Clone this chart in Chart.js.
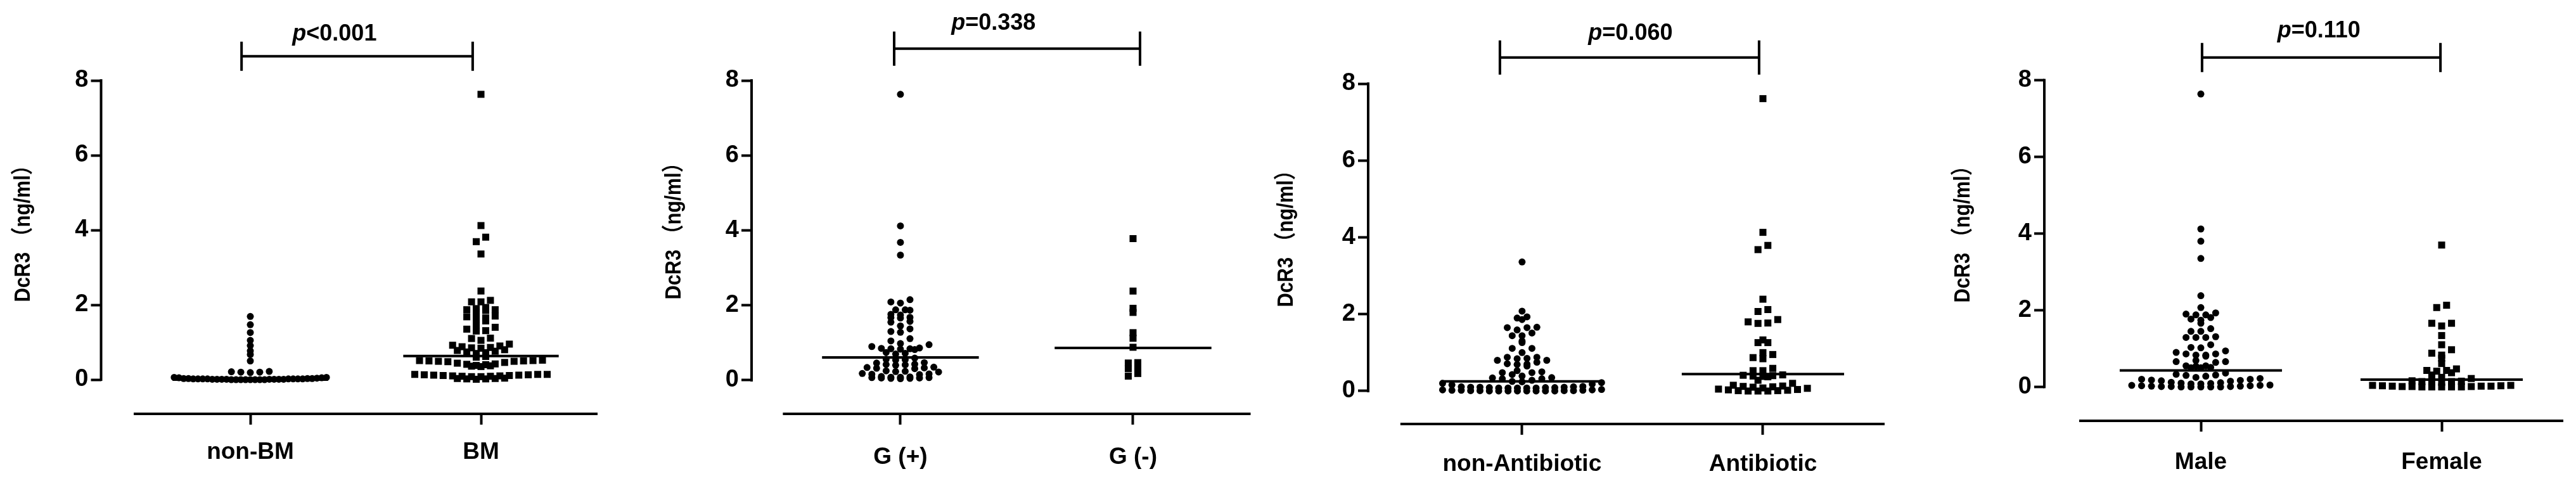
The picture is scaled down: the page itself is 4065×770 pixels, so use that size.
<!DOCTYPE html>
<html>
<head>
<meta charset="utf-8">
<script src="https://cdn.jsdelivr.net/npm/chart.js@4.4.0/dist/chart.umd.min.js"></script>
<style>
html, body { margin: 0; padding: 0; background: #fff; }
#wrap { position: relative; width: 4065px; height: 770px; }
.panel { position: absolute; top: 0; height: 770px; }
</style>
</head>
<body>
<div id="wrap">
  <div class="panel" style="left:0;width:1000px"><canvas id="c1"></canvas></div>
  <div class="panel" style="left:1000px;width:1000px"><canvas id="c2"></canvas></div>
  <div class="panel" style="left:2000px;width:1000px"><canvas id="c3"></canvas></div>
  <div class="panel" style="left:3000px;width:1065px"><canvas id="c4"></canvas></div>
</div>
<script>
// ---- data ----
const yTicks = [0, 2, 4, 6, 8];
const yTitle = 'DcR3 （ng/ml）';

const bmCategories = ['non-BM', 'BM'];
const nonBM = [1.69, 1.47, 1.26, 1.05, 0.91, 0.77, 0.67, 0.50,
  0.22, 0.21, 0.20, 0.19, 0.20,
  0.06, 0.05, 0.06, 0.05, 0.04,
  0.03, 0.02, 0.01, 0.00, 0.02, 0.01, 0.03, 0.00, 0.01, 0.02, 0.00, 0.01, 0.03, 0.02,
  0.00, 0.01, 0.02, 0.00, 0.01, 0.03, 0.02, 0.00, 0.01, 0.02, 0.00, 0.01, 0.02, 0.00];
const bm = [7.63, 4.12, 3.81, 3.69, 3.36, 2.37,
  2.12, 2.08, 2.08,
  1.93, 1.90, 1.87, 1.87, 1.85, 1.80,
  1.70, 1.68, 1.65, 1.62, 1.57,
  1.45, 1.40, 1.35, 1.31, 1.30,
  1.11, 1.10, 1.05,
  0.95, 0.92, 0.90, 0.88, 0.86, 0.85, 0.84,
  0.80, 0.78, 0.76, 0.74, 0.72, 0.70,
  0.62, 0.60,
  0.52, 0.51, 0.51, 0.50, 0.50, 0.49, 0.49, 0.48,
  0.46, 0.44, 0.42, 0.41, 0.40, 0.38, 0.37, 0.36, 0.35,
  0.14, 0.14, 0.14, 0.13, 0.13, 0.12, 0.12, 0.11, 0.11, 0.10, 0.10, 0.09, 0.09, 0.08, 0.08,
  0.04, 0.03, 0.03, 0.02, 0.02, 0.01];
const bmMedians = [0.0, 0.63];

const gramCategories = ['G (+)', 'G (-)'];
const gramPos = [7.63, 4.12, 3.68, 3.34,
  2.15, 2.09, 2.06,
  1.88, 1.88, 1.87, 1.76, 1.74, 1.68, 1.67, 1.66,
  1.57, 1.55, 1.45, 1.37, 1.30, 1.28,
  1.11, 1.05, 0.98, 0.95, 0.90,
  0.86, 0.85, 0.84, 0.84, 0.83, 0.82,
  0.74, 0.72, 0.70,
  0.59, 0.56, 0.55, 0.54,
  0.47, 0.46, 0.43, 0.42, 0.41, 0.40,
  0.35, 0.34, 0.33, 0.32, 0.31,
  0.25, 0.24, 0.23, 0.22,
  0.18, 0.17, 0.16, 0.15,
  0.10, 0.09, 0.08, 0.08, 0.07, 0.07, 0.06, 0.06, 0.05, 0.05, 0.04];
const gramNeg = [3.78, 2.38, 1.92, 1.81, 1.27, 1.12, 0.88, 0.47, 0.46, 0.36, 0.31, 0.18, 0.11];
const gramMedians = [0.61, 0.86];

const abxCategories = ['non-Antibiotic', 'Antibiotic'];
const nonAntibiotic = [3.36, 2.08, 1.93, 1.90, 1.86, 1.66, 1.65, 1.65, 1.59, 1.51, 1.44, 1.44,
  1.30, 1.26, 1.11, 1.11, 1.00,
  0.88, 0.88, 0.85, 0.84, 0.80, 0.80, 0.75, 0.71, 0.70, 0.69, 0.65,
  0.53, 0.50, 0.48, 0.48, 0.43, 0.39, 0.35, 0.34, 0.32, 0.32,
  0.28, 0.25, 0.24, 0.22, 0.20, 0.18, 0.16,
  0.12, 0.11, 0.11, 0.10, 0.10, 0.10, 0.09, 0.09, 0.09, 0.08, 0.08, 0.08, 0.08, 0.08,
  0.04, 0.03, 0.03, 0.02, 0.02, 0.02, 0.01, 0.01, 0.01, 0.01, 0.00, 0.00, 0.00, 0.00, 0.00, 0.00, 0.00, 0.00];
const antibiotic = [7.61, 4.13, 3.79, 3.68,
  2.39, 2.12, 2.07, 1.86, 1.80, 1.77, 1.76, 1.33, 1.26, 1.26, 1.00, 0.95, 0.87, 0.84,
  0.59, 0.53, 0.53,
  0.42, 0.41, 0.40, 0.39, 0.38, 0.37, 0.28, 0.20,
  0.15, 0.13, 0.12, 0.11, 0.10, 0.08, 0.07,
  0.05, 0.04, 0.03, 0.02, 0.01, 0.01, 0.00, 0.00, 0.00];
const abxMedians = [0.25, 0.44];

const sexCategories = ['Male', 'Female'];
const male = [7.64, 4.12, 3.80, 3.35, 2.38, 2.07,
  1.93, 1.90, 1.88, 1.88, 1.81, 1.77, 1.74, 1.66,
  1.52, 1.45, 1.45, 1.31, 1.29, 1.29, 1.29,
  1.10, 1.03, 1.02, 0.94,
  0.90, 0.86, 0.86, 0.83, 0.83, 0.80,
  0.69, 0.66, 0.66, 0.64,
  0.55, 0.55, 0.54, 0.51, 0.50, 0.50,
  0.36, 0.33, 0.31, 0.30, 0.28, 0.25, 0.22, 0.20, 0.20, 0.18,
  0.17, 0.16, 0.15,
  0.12, 0.11, 0.10, 0.09, 0.08, 0.08,
  0.05, 0.04, 0.04, 0.03, 0.03, 0.02, 0.02, 0.01, 0.01, 0.01, 0.00, 0.00, 0.00, 0.00, 0.00];
const female = [3.70, 2.13, 2.07, 1.66, 1.66, 1.59, 1.34, 1.10, 0.97, 0.88, 0.83, 0.75, 0.61,
  0.47, 0.43, 0.43, 0.41, 0.37, 0.31,
  0.25, 0.22, 0.16, 0.15, 0.14, 0.14, 0.13, 0.12,
  0.04, 0.04, 0.03, 0.03, 0.02, 0.02, 0.02, 0.01, 0.01, 0.01, 0.00, 0.00, 0.00, 0.00, 0.00];
const sexMedians = [0.43, 0.19];

const pValues = ['<0.001', '=0.338', '=0.060', '=0.110'];

// ---- look ----
const FONT = "'Liberation Sans', Arial, 'Noto Sans CJK SC', sans-serif";
const BIN = 0.15;        // values closer than this share one row of the swarm
const STEP = 0.041;      // horizontal gap between dots, in category units
const MAX_SPREAD = 0.33; // half width a row may take before dots overlap
const MEDIAN_HALF = 0.337;

// prism-like scatter: each row sorted, lowest dot in the middle, going outwards
function swarm(values, centre) {
  const rows = {};
  values.forEach(v => {
    const b = Math.round(v / BIN);
    (rows[b] = rows[b] || []).push(v);
  });
  const pts = [];
  Object.values(rows).forEach(row => {
    row.sort((a, b) => a - b);
    const n = row.length;
    const step = n > 1 ? Math.min(STEP, 2 * MAX_SPREAD / (n - 1)) : 0;
    row.forEach((v, i) => {
      let k;
      if (n % 2) k = i === 0 ? 0 : (i % 2 ? -(i + 1) / 2 : i / 2);
      else k = i % 2 ? (i + 1) / 2 - 0.5 : -(i / 2 + 0.5);
      pts.push({x: centre + k * step, y: v});
    });
  });
  return pts;
}

const prismAxes = {
  id: 'prismAxes',
  afterDraw(chart, args, o) {
    const {ctx, chartArea, scales: {x, y}} = chart;
    ctx.save();
    ctx.strokeStyle = '#000';
    ctx.lineWidth = 4;
    ctx.lineCap = 'square';
    ctx.beginPath();
    ctx.moveTo(chartArea.left, y.getPixelForValue(yTicks[0]));
    ctx.lineTo(chartArea.left, y.getPixelForValue(yTicks[yTicks.length - 1]));
    ctx.moveTo(x.getPixelForValue(-0.5), chartArea.bottom);
    ctx.lineTo(x.getPixelForValue(1.5), chartArea.bottom);
    ctx.stroke();

    // significance bracket
    const by = y.getPixelForValue(o.level);
    const bx0 = x.getPixelForValue(o.ends[0]);
    const bx1 = x.getPixelForValue(o.ends[1]);
    ctx.lineCap = 'butt';
    ctx.beginPath();
    ctx.moveTo(bx0, by); ctx.lineTo(bx1, by);
    ctx.moveTo(bx0, by - o.half); ctx.lineTo(bx0, by + o.half);
    ctx.moveTo(bx1, by - o.half); ctx.lineTo(bx1, by + o.half);
    ctx.stroke();

    // p label, italic p
    ctx.fillStyle = '#000';
    ctx.textBaseline = 'middle';
    ctx.textAlign = 'left';
    const tx = x.getPixelForValue(o.textAt);
    const ty = y.getPixelForValue(o.textLevel);
    ctx.font = 'italic bold 36px ' + FONT;
    const wp = ctx.measureText('p').width;
    ctx.font = 'bold 36px ' + FONT;
    const wr = ctx.measureText(o.text).width;
    const start = tx - (wp + wr) / 2;
    ctx.font = 'italic bold 36px ' + FONT;
    ctx.fillText('p', start, ty);
    ctx.font = 'bold 36px ' + FONT;
    ctx.fillText(o.text, start + wp, ty);

    // y axis title, a little condensed along its length like the original
    ctx.translate(o.titleX, o.titleY);
    ctx.rotate(-Math.PI / 2);
    ctx.scale(0.88, 1);
    ctx.textAlign = 'center';
    ctx.font = 'bold 35px ' + FONT;
    ctx.fillText(yTitle, 0, 0);
    ctx.restore();
  }
};

const panels = [
  {id: 'c1', cats: bmCategories, groups: [nonBM, bm], medians: bmMedians, p: pValues[0],
   yw: 159.5, right: 59, top: 127, xh: 117, yMin: -0.915, xMin: -0.647, labelPad: 22,
   titleX: 37.5, titleY: 361,
   ends: [-0.038, 0.964], level: 8.65, half: 23, textAt: 0.365, textLevel: 9.24},
  {id: 'c2', cats: gramCategories, groups: [gramPos, gramNeg], medians: gramMedians, p: pValues[1],
   yw: 186, right: 28.5, top: 127, xh: 117, yMin: -0.897, xMin: -0.640, labelPad: 30,
   titleX: 64, titleY: 357,
   ends: [-0.027, 1.03], level: 8.85, half: 27, textAt: 0.40, textLevel: 9.52},
  {id: 'c3', cats: abxCategories, groups: [nonAntibiotic, antibiotic], medians: abxMedians, p: pValues[2],
   yw: 159, right: 28, top: 132, xh: 101, yMin: -0.858, xMin: -0.639, labelPad: 25,
   titleX: 30, titleY: 369,
   ends: [-0.092, 0.984], level: 8.68, half: 27, textAt: 0.45, textLevel: 9.31},
  {id: 'c4', cats: sexCategories, groups: [male, female], medians: sexMedians, p: pValues[3],
   yw: 226, right: 22, top: 126.5, xh: 106, yMin: -0.884, xMin: -0.650, labelPad: 27,
   titleX: 98.5, titleY: 362,
   ends: [0.005, 0.995], level: 8.59, half: 23, textAt: 0.49, textLevel: 9.28}
];

panels.forEach(P => {
  const datasets = [];
  P.medians.forEach((m, i) => {
    datasets.push({
      type: 'line',
      data: [{x: i - MEDIAN_HALF, y: m}, {x: i + MEDIAN_HALF, y: m}],
      borderColor: '#000', borderWidth: 4, pointRadius: 0, clip: false
    });
  });
  P.groups.forEach((vals, i) => {
    datasets.push({
      type: 'scatter',
      data: swarm(vals, i),
      pointStyle: i === 0 ? 'circle' : 'rect',
      pointRadius: i === 0 ? 5.5 : 7.8,
      backgroundColor: '#000', borderWidth: 0, clip: false
    });
  });

  new Chart(document.getElementById(P.id), {
    type: 'scatter',
    data: {datasets: datasets},
    plugins: [prismAxes],
    options: {
      responsive: true,
      maintainAspectRatio: false,
      animation: false,
      layout: {padding: {top: P.top, right: P.right, bottom: 0, left: 0}},
      plugins: {
        legend: {display: false},
        tooltip: {enabled: false},
        prismAxes: {ends: P.ends, level: P.level, half: P.half, text: P.p,
                    textAt: P.textAt, textLevel: P.textLevel, titleX: P.titleX, titleY: P.titleY}
      },
      scales: {
        x: {
          type: 'linear', min: P.xMin, max: 1.5,
          border: {display: false},
          grid: {drawOnChartArea: false, drawTicks: true, tickLength: 17, tickWidth: 4, tickColor: '#000'},
          ticks: {color: '#000', padding: P.labelPad, maxRotation: 0, autoSkip: false,
                  font: {family: FONT, size: 37, weight: 'bold'},
                  callback: v => P.cats[v]},
          afterBuildTicks: s => { s.ticks = [{value: 0}, {value: 1}]; },
          afterFit: s => { s.height = P.xh; }
        },
        y: {
          min: P.yMin, max: 8,
          border: {display: false},
          grid: {drawOnChartArea: false, drawTicks: true, tickLength: 16, tickWidth: 4, tickColor: '#000'},
          ticks: {color: '#000', padding: 4, font: {family: FONT, size: 38, weight: 'bold'}},
          afterBuildTicks: s => { s.ticks = yTicks.map(v => ({value: v})); },
          afterFit: s => { s.width = P.yw; }
        }
      }
    }
  });
});
</script>
</body>
</html>
